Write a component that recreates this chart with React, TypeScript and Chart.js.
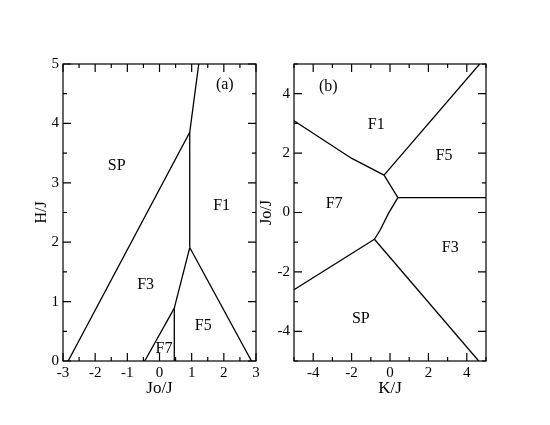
import React, { useEffect, useRef } from 'react';
import { Chart, registerables } from 'chart.js';

Chart.register(...registerables);

const FONT = "'Liberation Serif', 'Times New Roman', Times, serif";

// ---------- Panel (a) data: H/J vs Jo/J ----------
const aXTicks = [-3, -2, -1, 0, 1, 2, 3];
const aYTicks = [0, 1, 2, 3, 4, 5];
const aLine1X = [-2.84, 0.94, 1.22];
const aLine1Y = [0, 3.85, 5];
const aLine2X = [0.94, 0.94];
const aLine2Y = [3.85, 1.91];
const aLine3X = [0.94, 2.86];
const aLine3Y = [1.91, 0];
const aLine4X = [0.94, 0.46];
const aLine4Y = [1.91, 0.89];
const aLine5X = [0.46, 0.46];
const aLine5Y = [0.89, 0];
const aLine6X = [0.46, -0.46];
const aLine6Y = [0.89, 0];
const aLabels = ['SP', 'F1', 'F3', 'F5', 'F7', '(a)'];
const aLabelX = [-1.33, 1.93, -0.43, 1.36, 0.14, 2.03];
const aLabelY = [3.28, 2.61, 1.28, 0.59, 0.2, 4.65];

// ---------- Panel (b) data: Jo/J vs K/J ----------
const bXTicks = [-4, -2, 0, 2, 4];
const bYTicks = [-4, -2, 0, 2, 4];
const bLine1X = [-5, -1.99, -0.31];
const bLine1Y = [3.09, 1.82, 1.26];
const bLine2X = [-0.31, 4.67];
const bLine2Y = [1.26, 5];
const bLine3X = [-0.31, 0.41];
const bLine3Y = [1.26, 0.5];
const bLine4X = [0.41, 5];
const bLine4Y = [0.5, 0.5];
const bLine5X = [0.41, -0.08, -0.51, -0.81];
const bLine5Y = [0.5, -0.03, -0.59, -0.9];
const bLine6X = [-0.81, -5];
const bLine6Y = [-0.9, -2.6];
const bLine7X = [-0.81, 4.62];
const bLine7Y = [-0.9, -5];
const bLabels = ['F1', 'F5', 'F7', 'F3', 'SP', '(b)'];
const bLabelX = [-0.72, 2.82, -2.91, 3.14, -1.52, -3.21];
const bLabelY = [2.94, 1.9, 0.3, -1.18, -3.57, 4.24];

const zip = (xs: number[], ys: number[]) => xs.map((x, i) => ({ x, y: ys[i] }));

const frameTicksPlugin = {
  id: 'frameTicks',
  afterDatasetsDraw(chart: any, _args: any, opts: any) {
    const { ctx, chartArea: ca, scales } = chart;
    const xs = scales.x;
    const ys = scales.y;
    ctx.save();
    ctx.strokeStyle = '#000';
    ctx.lineWidth = 1.2;
    ctx.strokeRect(ca.left, ca.top, ca.right - ca.left, ca.bottom - ca.top);
    const drawTicks = (scale: any, major: number, minor: number, horizontal: boolean) => {
      const n = Math.round((scale.max - scale.min) / minor);
      for (let i = 0; i <= n; i++) {
        const v = scale.min + i * minor;
        const r = v / major;
        const isMajor = Math.abs(r - Math.round(r)) < 1e-6;
        const len = isMajor ? 8 : 4;
        const p = scale.getPixelForValue(v);
        ctx.beginPath();
        if (horizontal) {
          ctx.moveTo(p, ca.bottom);
          ctx.lineTo(p, ca.bottom - len);
          ctx.moveTo(p, ca.top);
          ctx.lineTo(p, ca.top + len);
        } else {
          ctx.moveTo(ca.left, p);
          ctx.lineTo(ca.left + len, p);
          ctx.moveTo(ca.right, p);
          ctx.lineTo(ca.right - len, p);
        }
        ctx.stroke();
      }
    };
    drawTicks(xs, opts.xMajor, opts.xMinor, true);
    drawTicks(ys, opts.yMajor, opts.yMinor, false);
    ctx.fillStyle = '#000';
    ctx.font = `16px ${FONT}`;
    ctx.textAlign = 'center';
    ctx.textBaseline = 'middle';
    opts.texts.forEach((t: string, i: number) => {
      ctx.fillText(t, xs.getPixelForValue(opts.tx[i]), ys.getPixelForValue(opts.ty[i]));
    });
    ctx.restore();
  },
};

interface PanelCfg {
  lines: { x: number[]; y: number[] }[];
  xMin: number; xMax: number; yMin: number; yMax: number;
  xTicks: number[]; yTicks: number[];
  xMajor: number; xMinor: number; yMajor: number; yMinor: number;
  xTitle: string; yTitle: string;
  texts: string[]; tx: number[]; ty: number[];
  padding: { left: number; right: number; top: number; bottom: number };
  yAxisWidth: number; xAxisHeight: number;
  yTitlePad: number; xTitlePad: number;
}

function buildConfig(c: PanelCfg): any {
  return {
    type: 'scatter',
    data: {
      datasets: c.lines.map((l) => ({
        data: zip(l.x, l.y),
        showLine: true,
        borderColor: '#000',
        borderWidth: 1.3,
        pointRadius: 0,
        pointHoverRadius: 0,
        fill: false,
        tension: 0,
      })),
    },
    options: {
      animation: false,
      responsive: false,
      devicePixelRatio: 1,
      events: [],
      layout: { padding: c.padding },
      plugins: {
        legend: { display: false },
        tooltip: { enabled: false },
        frameTicks: {
          xMajor: c.xMajor, xMinor: c.xMinor, yMajor: c.yMajor, yMinor: c.yMinor,
          texts: c.texts, tx: c.tx, ty: c.ty,
        },
      },
      scales: {
        x: {
          type: 'linear',
          min: c.xMin,
          max: c.xMax,
          grid: { display: false, drawTicks: false },
          border: { display: false },
          afterBuildTicks: (s: any) => { s.ticks = c.xTicks.map((v) => ({ value: v })); },
          afterFit: (s: any) => { s.height = c.xAxisHeight; },
          ticks: { color: '#000', font: { family: FONT, size: 15 }, padding: 3, maxRotation: 0, autoSkip: false },
          title: {
            display: true,
            text: c.xTitle,
            color: '#000',
            font: { family: FONT, size: 17 },
            padding: { top: 0, bottom: c.xTitlePad },
          },
        },
        y: {
          type: 'linear',
          min: c.yMin,
          max: c.yMax,
          grid: { display: false, drawTicks: false },
          border: { display: false },
          afterBuildTicks: (s: any) => { s.ticks = c.yTicks.map((v) => ({ value: v })); },
          afterFit: (s: any) => { s.width = c.yAxisWidth; },
          ticks: { color: '#000', font: { family: FONT, size: 15 }, padding: 4, autoSkip: false },
          title: {
            display: true,
            text: c.yTitle,
            color: '#000',
            font: { family: FONT, size: 16 },
            padding: { top: c.yTitlePad, bottom: 0 },
          },
        },
      },
    },
    plugins: [frameTicksPlugin],
  };
}

const panelA: PanelCfg = {
  lines: [
    { x: aLine1X, y: aLine1Y },
    { x: aLine2X, y: aLine2Y },
    { x: aLine3X, y: aLine3Y },
    { x: aLine4X, y: aLine4Y },
    { x: aLine5X, y: aLine5Y },
    { x: aLine6X, y: aLine6Y },
  ],
  xMin: -3, xMax: 3, yMin: 0, yMax: 5,
  xTicks: aXTicks, yTicks: aYTicks,
  xMajor: 1, xMinor: 0.5, yMajor: 1, yMinor: 0.5,
  xTitle: 'Jo/J', yTitle: 'H/J',
  texts: aLabels, tx: aLabelX, ty: aLabelY,
  padding: { left: 28, right: 19, top: 64, bottom: 24 },
  yAxisWidth: 35, xAxisHeight: 40,
  yTitlePad: 4, xTitlePad: 2,
};

const panelB: PanelCfg = {
  lines: [
    { x: bLine1X, y: bLine1Y },
    { x: bLine2X, y: bLine2Y },
    { x: bLine3X, y: bLine3Y },
    { x: bLine4X, y: bLine4Y },
    { x: bLine5X, y: bLine5Y },
    { x: bLine6X, y: bLine6Y },
    { x: bLine7X, y: bLine7Y },
  ],
  xMin: -5, xMax: 5, yMin: -5, yMax: 5,
  xTicks: bXTicks, yTicks: bYTicks,
  xMajor: 2, xMinor: 1, yMajor: 2, yMinor: 1,
  xTitle: 'K/J', yTitle: 'Jo/J',
  texts: bLabels, tx: bLabelX, ty: bLabelY,
  padding: { left: 9, right: 64, top: 64, bottom: 24 },
  yAxisWidth: 45, xAxisHeight: 40,
  yTitlePad: 8, xTitlePad: 2,
};

function Panel({ cfg, left, width }: { cfg: PanelCfg; left: number; width: number }) {
  const ref = useRef<HTMLCanvasElement>(null);
  useEffect(() => {
    const chart = new Chart(ref.current as HTMLCanvasElement, buildConfig(cfg));
    return () => chart.destroy();
  }, [cfg]);
  return (
    <canvas
      ref={ref}
      width={width}
      height={425}
      style={{ position: 'absolute', left, top: 0, width, height: 425 }}
    />
  );
}

export default function App() {
  return (
    <div style={{ position: 'fixed', left: 0, top: 0, width: 550, height: 425, background: '#fff' }}>
      <Panel cfg={panelA} left={0} width={275} />
      <Panel cfg={panelB} left={240} width={310} />
    </div>
  );
}
